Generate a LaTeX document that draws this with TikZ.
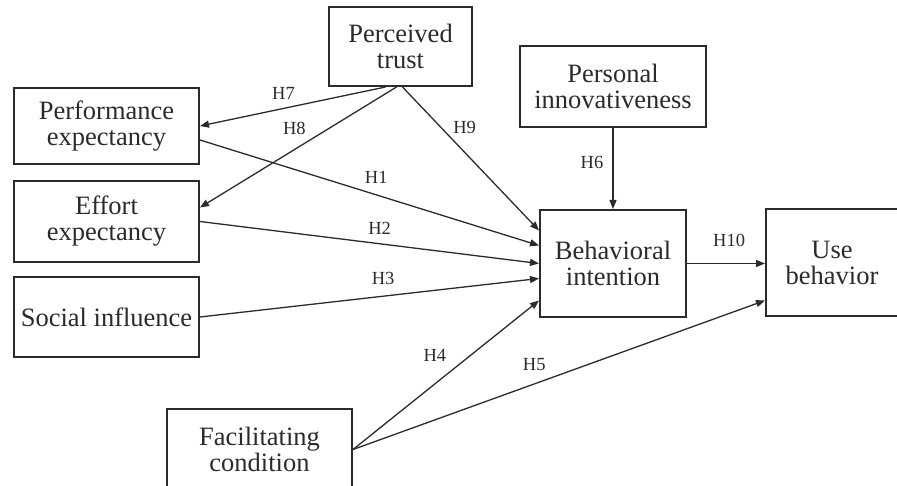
\documentclass[tikz,border=0pt]{standalone}
\usepackage{fontspec}
\setmainfont{Liberation Serif}
\usetikzlibrary{arrows.meta,calc}
\definecolor{ink}{HTML}{2B2B2B}
\tikzset{
  >={Triangle[length=9pt,width=7pt]},
  box/.style={draw=ink,line width=2pt,align=center,text=ink,inner sep=0pt,
    font=\fontsize{26.5}{26}\selectfont},
  arr/.style={->,draw=ink,line width=1.3pt},
  lbl/.style={font=\fontsize{18.5}{20}\selectfont,text=ink,inner sep=1pt},
}

\begin{document}
\begin{tikzpicture}[x=1pt,y=-1pt,
  side/.style={box,minimum width=185pt,minimum height=79pt}]
  \useasboundingbox (0,0) rectangle (897,486);
  % constructs
  \node[box,minimum width=143pt,minimum height=79pt] (trust) at (400.5,46.5) {Perceived\\trust};
  \node[box,minimum width=186pt,minimum height=81pt] (innov) at (613,86.5) {Personal\\innovativeness};
  \node[side,minimum height=76pt] (perf) at (106.5,126) {Performance\\expectancy};
  \node[side,minimum height=81pt] (effort) at (106.5,221.5) {Effort\\expectancy};
  \node[side,minimum height=80pt] (social) at (106.5,317) {Social influence};
  \node[side,minimum height=81pt] (facil) at (259.5,449.5) {Facilitating\\condition};
  \node[box,minimum width=146pt,minimum height=107pt] (intent) at (613,263.5) {Behavioral\\intention};
  \node[box,minimum width=132pt,minimum height=107pt] (use) at (832,262.5) {Use\\behavior};
  % hypotheses
  \draw[arr] ($(trust.south)+(-15,0)$) -- node[lbl,pos=.55,above=7pt] {H7} (perf.east);
  \draw[arr] ($(trust.south)+(-4,0)$) -- node[lbl,pos=.52,above=13pt] {H8} ($(effort.east)+(0,-14)$);
  \draw[arr] ($(trust.south)+(2,0)$) -- node[lbl,pos=.28,right=11pt] {H9} ($(intent.west)+(0,-33)$);
  \draw[arr] ($(perf.east)+(0,14)$) -- node[lbl,pos=.52,above=10pt] {H1} ($(intent.west)+(0,-18)$);
  \draw[arr] (effort.east) -- node[lbl,pos=.53,above=8pt] {H2} (intent.west);
  \draw[arr] (social.east) -- node[lbl,pos=.54,above=10pt] {H3} ($(intent.west)+(0,15)$);
  \draw[arr] (facil.east) -- node[lbl,pos=.44,above=21pt] {H4} ($(intent.west)+(0,37)$);
  \draw[arr] (facil.east) -- node[lbl,pos=.44,above=12pt] {H5} ($(use.west)+(0,38)$);
  \draw[arr] (innov.south) -- node[lbl,pos=.43,left=8pt] {H6} (intent.north);
  \draw[arr] (intent.east) -- node[lbl,pos=.54,above=15pt] {H10} (intent.east -| use.west);
\end{tikzpicture}
\end{document}
